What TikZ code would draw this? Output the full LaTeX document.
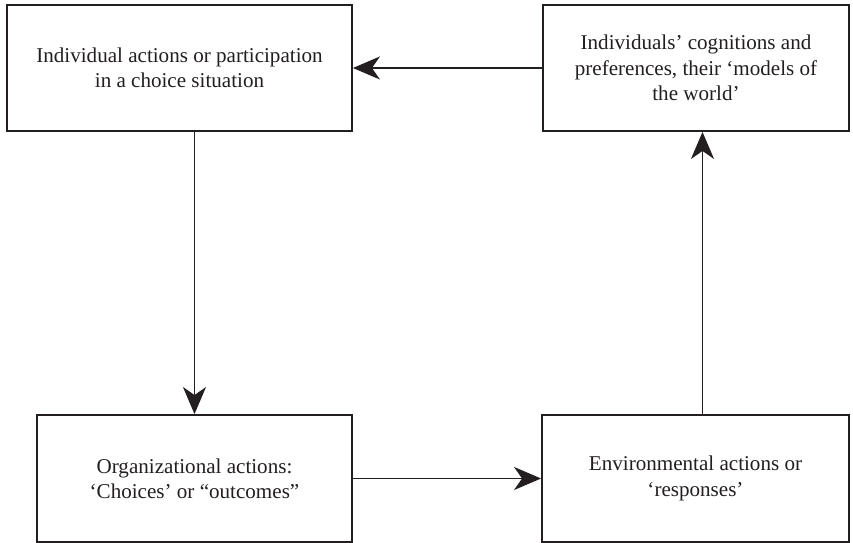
\documentclass[tikz,border=0pt]{standalone}
\usepackage{fontspec}
\setmainfont{Liberation Serif}
\usepackage{tikz}
\usepackage{xcolor}
\usetikzlibrary{arrows.meta,positioning,calc}
\definecolor{ink}{HTML}{231F20}
\tikzset{
  box/.style={draw=ink, fill=white, line width=1.1pt, align=center, inner sep=4pt,
              font=\fontsize{12}{14.4}\selectfont, text=ink},
  arrow/.style={-{Stealth[length=5.4mm,width=4.6mm,inset=1.6mm]}, line width=1.1pt, draw=ink}
}

\begin{document}
\begin{tikzpicture}[x=0.02cm,y=-0.02cm]
        \useasboundingbox (0,0) rectangle (853,543);

        \node[box,minimum width=6.9cm,minimum height=2.52cm] (indiv) at (179.5,68)
          {Individual actions or participation\\in a choice situation};
        \node[box,minimum width=6.12cm,minimum height=2.52cm] (cogn) at (696,68)
          {Individuals’ cognitions and\\preferences, their ‘models of\\the world’};
        \node[box,minimum width=6.3cm,minimum height=2.54cm] (org) at (194.5,478.5)
          {Organizational actions:\\‘Choices’ or “outcomes”};
        \node[box,minimum width=6.14cm,minimum height=2.54cm] (env) at (695.5,478.5)
          {Environmental actions or\\‘responses’};

        \draw[arrow] (cogn.west) -- (indiv.east);
        \draw[arrow] (org.north |- indiv.south) -- (org.north);
        \draw[arrow] (org.east) -- (env.west);
        \draw[arrow] ([xshift=0.14cm]env.north) -- ([xshift=0.14cm]env.north |- cogn.south);
      \end{tikzpicture}
\end{document}
